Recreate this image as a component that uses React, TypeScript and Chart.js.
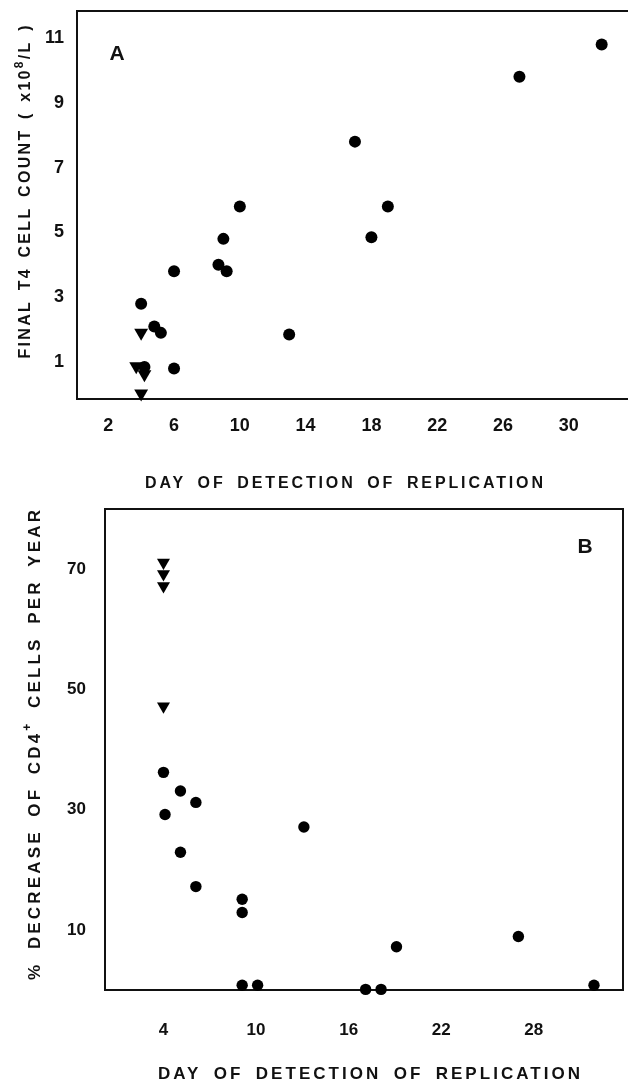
import React, { useEffect, useRef } from "react";
import { Chart, registerables } from "chart.js";

Chart.register(...registerables);

// ---------- Panel A data ----------
const A_X_TICKS = [2, 6, 10, 14, 18, 22, 26, 30];
const A_Y_TICKS = [1, 3, 5, 7, 9, 11];
const A_CIRCLE_DAY = [32, 27, 17, 19, 18, 10, 9, 8.7, 9.2, 6, 13, 4, 4.8, 5.2, 6, 4.2];
const A_CIRCLE_COUNT = [10.8, 9.8, 7.8, 5.8, 4.85, 5.8, 4.8, 4.0, 3.8, 3.8, 1.85, 2.8, 2.1, 1.9, 0.8, 0.85];
const A_TRIANGLE_DAY = [4, 3.7, 4.2, 4];
const A_TRIANGLE_COUNT = [1.9, 0.87, 0.62, 0.03];

// ---------- Panel B data ----------
const B_X_TICKS = [4, 10, 16, 22, 28];
const B_Y_TICKS = [10, 30, 50, 70];
const B_CIRCLE_DAY = [4, 4.1, 5.1, 6.1, 5.1, 6.1, 9.1, 9.1, 13.1, 19.1, 27, 9.1, 10.1, 17.1, 18.1, 31.9];
const B_CIRCLE_PCT = [36.2, 29.2, 33.1, 31.2, 22.9, 17.2, 15.1, 12.9, 27.1, 7.2, 8.9, 0.8, 0.8, 0.1, 0.1, 0.8];
const B_TRIANGLE_DAY = [4, 4, 4, 4];
const B_TRIANGLE_PCT = [71.1, 69.2, 67.2, 47.2];

// ---------- Text ----------
const X_TITLE = "DAY OF DETECTION OF REPLICATION";
const A_Y_TITLE_PARTS = ["FINAL T4 CELL COUNT ( x10", "8", "/L )"];
const B_Y_TITLE_PARTS = ["% DECREASE OF CD4", "+", " CELLS PER YEAR"];
const A_LETTER = "A";
const B_LETTER = "B";

const FAMILY = "'Liberation Sans', Arial, Helvetica, sans-serif";
const INK = "#111";

// parts alternate: normal, superscript, normal, ...
function drawSpaced(
  ctx: CanvasRenderingContext2D,
  parts: string[],
  cx: number,
  cy: number,
  rot: number,
  size: number,
  target: number,
  k: number
) {
  const mainFont = `bold ${size}px ${FAMILY}`;
  const supFont = `bold ${Math.round(size * 0.72)}px ${FAMILY}`;
  ctx.save();
  (ctx as any).letterSpacing = "0px";
  (ctx as any).wordSpacing = "0px";
  let w0 = 0;
  let n = 0;
  let spaces = 0;
  const widths: number[] = [];
  parts.forEach((p, i) => {
    ctx.font = i % 2 === 1 ? supFont : mainFont;
    const w = ctx.measureText(p).width;
    widths.push(w);
    w0 += w;
    n += Array.from(p).length;
    spaces += p.split(" ").length - 1;
  });
  const ls = Math.max(0, (target - w0) / (n - 1 + k * spaces));
  const ws = k * ls;
  ctx.translate(cx, cy);
  ctx.rotate(rot);
  ctx.textAlign = "left";
  ctx.textBaseline = "middle";
  ctx.fillStyle = INK;
  let x = -target / 2;
  parts.forEach((p, i) => {
    if (!p) return;
    const sup = i % 2 === 1;
    ctx.font = sup ? supFont : mainFont;
    (ctx as any).letterSpacing = ls + "px";
    (ctx as any).wordSpacing = ws + "px";
    ctx.fillText(p, x, sup ? -size * 0.42 : 0);
    x += widths[i] + ls * Array.from(p).length + ws * (p.split(" ").length - 1);
  });
  (ctx as any).letterSpacing = "0px";
  (ctx as any).wordSpacing = "0px";
  ctx.restore();
}

const decorPlugin = {
  id: "panelDecor",
  beforeDatasetsDraw(chart: any) {
    const o = chart.options.plugins.panelDecor;
    const { ctx, chartArea } = chart;
    const { left, right, top, bottom } = chartArea;
    ctx.save();
    ctx.strokeStyle = INK;
    ctx.lineWidth = 2;
    ctx.beginPath();
    if (o.sides.includes("left")) {
      ctx.moveTo(left, top - 1);
      ctx.lineTo(left, bottom + 1);
    }
    if (o.sides.includes("top")) {
      ctx.moveTo(left - 1, top);
      ctx.lineTo(right + 1, top);
    }
    if (o.sides.includes("bottom")) {
      ctx.moveTo(left - 1, bottom);
      ctx.lineTo(right + 1, bottom);
    }
    if (o.sides.includes("right")) {
      ctx.moveTo(right, top - 1);
      ctx.lineTo(right, bottom + 1);
    }
    ctx.stroke();
    ctx.restore();
  },
  afterDraw(chart: any) {
    const o = chart.options.plugins.panelDecor;
    const ctx = chart.ctx as CanvasRenderingContext2D;
    for (const t of o.titles) {
      drawSpaced(ctx, t.parts, t.x, t.y, t.rot, t.size, t.target, t.k);
    }
    ctx.save();
    ctx.font = o.letter.font;
    ctx.fillStyle = INK;
    ctx.textAlign = "center";
    ctx.textBaseline = "middle";
    ctx.fillText(o.letter.text, o.letter.x, o.letter.y);
    ctx.restore();
  },
};

function pts(xs: number[], ys: number[]) {
  return xs.map((x, i) => ({ x, y: ys[i] }));
}

function zeroPad(s: any) {
  s.paddingTop = 0;
  s.paddingBottom = 0;
  s.paddingLeft = 0;
  s.paddingRight = 0;
}

function makeConfig(p: any): any {
  const tickFont = { family: FAMILY, weight: "bold", size: p.tickSize };
  return {
    type: "scatter",
    data: {
      datasets: [
        {
          data: pts(p.cx, p.cy),
          pointStyle: "circle",
          pointRadius: p.circleR,
          pointHoverRadius: p.circleR,
          backgroundColor: "#000",
          borderColor: "#000",
          borderWidth: 0,
          clip: false,
        },
        {
          data: pts(p.tx, p.ty),
          pointStyle: "triangle",
          pointRadius: p.triR,
          pointHoverRadius: p.triR,
          pointRotation: 180,
          backgroundColor: "#000",
          borderColor: "#000",
          borderWidth: 0,
          clip: false,
        },
      ],
    },
    options: {
      animation: false,
      responsive: false,
      devicePixelRatio: 1,
      layout: { padding: p.padding, autoPadding: false },
      plugins: {
        legend: { display: false },
        tooltip: { enabled: false },
        panelDecor: p.decor,
      },
      scales: {
        x: {
          type: "linear",
          min: p.xMin,
          max: p.xMax,
          grid: { display: false, drawTicks: false },
          border: { display: false },
          ticks: {
            font: tickFont,
            color: INK,
            padding: p.xPad,
            maxRotation: 0,
            callback: (v: number) => String(v),
          },
          afterBuildTicks: (s: any) => {
            s.ticks = p.xTicks.map((v: number) => ({ value: v }));
          },
          afterFit: (s: any) => {
            s.height = p.xHeight;
            zeroPad(s);
          },
        },
        y: {
          type: "linear",
          min: p.yMin,
          max: p.yMax,
          grid: { display: false, drawTicks: false },
          border: { display: false },
          ticks: {
            font: tickFont,
            color: INK,
            padding: p.yPad,
            callback: (v: number) => String(v),
          },
          afterBuildTicks: (s: any) => {
            s.ticks = p.yTicks.map((v: number) => ({ value: v }));
          },
          afterFit: (s: any) => {
            s.width = p.yWidth;
            zeroPad(s);
          },
        },
      },
    },
    plugins: [decorPlugin],
  };
}

export default function App() {
  const refA = useRef<HTMLCanvasElement>(null);
  const refB = useRef<HTMLCanvasElement>(null);

  useEffect(() => {
    const cfgA = makeConfig({
      cx: A_CIRCLE_DAY,
      cy: A_CIRCLE_COUNT,
      tx: A_TRIANGLE_DAY,
      ty: A_TRIANGLE_COUNT,
      circleR: 6,
      triR: 8,
      tickSize: 18,
      padding: { top: 11, left: 0, right: 0, bottom: 0 },
      xMin: 0.1,
      xMax: 33.6,
      yMin: -0.14,
      yMax: 11.83,
      xTicks: A_X_TICKS,
      yTicks: A_Y_TICKS,
      xPad: 16,
      yPad: 13,
      xHeight: 101,
      yWidth: 77,
      decor: {
        sides: ["left", "top", "bottom"],
        titles: [
          { parts: [X_TITLE], x: 344, y: 484, rot: 0, size: 16, target: 398, k: 1.5 },
          { parts: A_Y_TITLE_PARTS, x: 26, y: 192, rot: -Math.PI / 2, size: 16, target: 333, k: 1.2 },
        ],
        letter: { text: A_LETTER, x: 117, y: 54, font: `bold 21px ${FAMILY}` },
      },
    });
    const cfgB = makeConfig({
      cx: B_CIRCLE_DAY,
      cy: B_CIRCLE_PCT,
      tx: B_TRIANGLE_DAY,
      ty: B_TRIANGLE_PCT,
      circleR: 5.7,
      triR: 7.5,
      tickSize: 17,
      padding: { top: 9, left: 0, right: 5, bottom: 0 },
      xMin: 0.21,
      xMax: 33.78,
      yMin: 0,
      yMax: 80,
      xTicks: B_X_TICKS,
      yTicks: B_Y_TICKS,
      xPad: 30,
      yPad: 19,
      xHeight: 94,
      yWidth: 105,
      decor: {
        sides: ["left", "top", "bottom", "right"],
        titles: [
          { parts: [X_TITLE], x: 369, y: 574, rot: 0, size: 17, target: 422, k: 1.5 },
          { parts: B_Y_TITLE_PARTS, x: 35, y: 245, rot: -Math.PI / 2, size: 17, target: 470, k: 1.5 },
        ],
        letter: { text: B_LETTER, x: 585, y: 47, font: `bold 21px ${FAMILY}` },
      },
    });
    const a = new Chart(refA.current as HTMLCanvasElement, cfgA);
    const b = new Chart(refB.current as HTMLCanvasElement, cfgB);
    return () => {
      a.destroy();
      b.destroy();
    };
  }, []);

  return (
    <div style={{ position: "absolute", left: 0, top: 0, width: 628, height: 1084, background: "#fff" }}>
      <canvas
        ref={refA}
        width={628}
        height={500}
        style={{ position: "absolute", left: 0, top: 0, width: 628, height: 500, display: "block" }}
      />
      <canvas
        ref={refB}
        width={628}
        height={584}
        style={{ position: "absolute", left: 0, top: 500, width: 628, height: 584, display: "block" }}
      />
    </div>
  );
}
